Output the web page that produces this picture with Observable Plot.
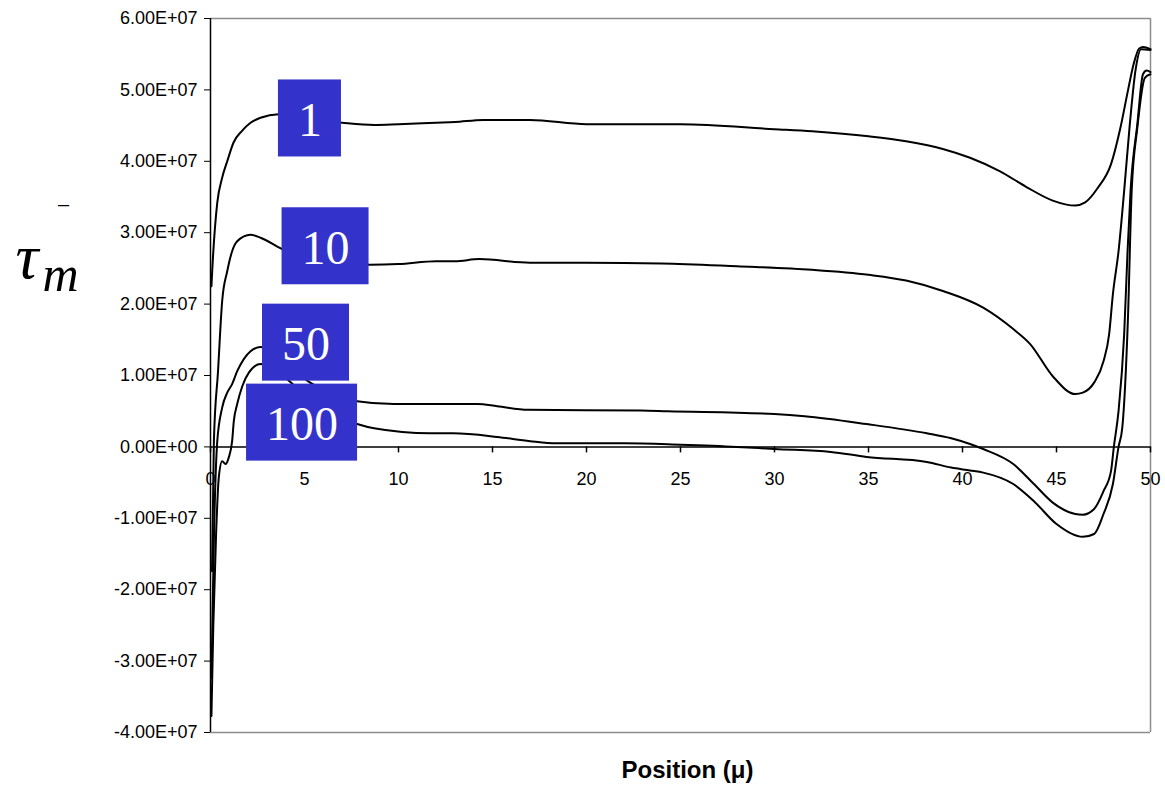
<!DOCTYPE html>
<html>
<head>
<meta charset="utf-8">
<script src="https://cdn.jsdelivr.net/npm/d3@7"></script>
<script src="https://cdn.jsdelivr.net/npm/@observablehq/plot@0.6"></script>
<style>
  html, body { margin: 0; padding: 0; background: #fff; }
</style>
</head>
<body>
<div id="chart"></div>
<script>
// ---- data ----
const xTicks = [0, 5, 10, 15, 20, 25, 30, 35, 40, 45, 50];
const yTicks = [-4e7, -3e7, -2e7, -1e7, 0, 1e7, 2e7, 3e7, 4e7, 5e7, 6e7];

const s1x = [0.05, 0.09, 0.36, 0.62, 0.89, 1.22, 1.69, 2.13, 2.66, 3.62, 5, 7, 8.7, 10, 12, 13, 14.5, 17, 20, 25, 30, 32, 35, 37, 39, 40.4, 42, 43.4, 44.8, 46, 46.5, 47.2, 47.9, 48.4, 48.8, 49.1, 49.4, 49.6, 50];
const s1y = [2.25e7, 2.46e7, 3.42e7, 3.77e7, 4.0e7, 4.26e7, 4.43e7, 4.54e7, 4.61e7, 4.66e7, 4.6e7, 4.54e7, 4.51e7, 4.52e7, 4.54e7, 4.55e7, 4.58e7, 4.58e7, 4.52e7, 4.52e7, 4.45e7, 4.42e7, 4.35e7, 4.28e7, 4.17e7, 4.05e7, 3.86e7, 3.64e7, 3.45e7, 3.38e7, 3.42e7, 3.63e7, 3.96e7, 4.47e7, 4.99e7, 5.36e7, 5.58e7, 5.6e7, 5.57e7];

const s10x = [0.08, 0.18, 0.4, 0.62, 0.89, 1.15, 1.42, 2.13, 2.66, 3.81, 5.5, 7, 8.5, 10, 12, 13, 14.3, 17, 20, 24, 28, 32, 35, 37, 39, 41.1, 42.7, 43.6, 44.8, 46, 46.4, 47, 47.5, 47.8, 48, 48.3, 48.6, 48.9, 49.2, 49.5, 50];
const s10y = [-1.74e7, 0.08e7, 1.06e7, 2.04e7, 2.46e7, 2.74e7, 2.88e7, 2.97e7, 2.93e7, 2.77e7, 2.62e7, 2.56e7, 2.55e7, 2.56e7, 2.6e7, 2.6e7, 2.63e7, 2.58e7, 2.58e7, 2.57e7, 2.53e7, 2.48e7, 2.41e7, 2.33e7, 2.18e7, 1.95e7, 1.65e7, 1.44e7, 0.99e7, 0.74e7, 0.76e7, 0.9e7, 1.2e7, 1.58e7, 2.14e7, 2.74e7, 3.59e7, 4.52e7, 5.27e7, 5.57e7, 5.56e7];

const s50x = [0.05, 0.18, 0.36, 0.62, 0.89, 1.15, 1.42, 1.77, 2.13, 2.66, 3.5, 5.3, 6.5, 7.8, 9.75, 14.2, 15.25, 16.9, 22.9, 24.3, 30, 31.6, 34.9, 38.1, 39.4, 40.4, 41.1, 42.7, 43.8, 44.8, 46, 46.4, 47, 47.5, 47.9, 48.05, 48.3, 48.6, 48.78, 48.94, 49.3, 49.6, 49.8, 50];
const s50y = [-3.24e7, -1.3e7, 0.08e7, 0.55e7, 0.76e7, 0.88e7, 1.06e7, 1.23e7, 1.34e7, 1.4e7, 1.3e7, 0.9e7, 0.75e7, 0.64e7, 0.6e7, 0.6e7, 0.57e7, 0.52e7, 0.51e7, 0.5e7, 0.46e7, 0.43e7, 0.32e7, 0.19e7, 0.12e7, 0.04e7, -0.03e7, -0.24e7, -0.52e7, -0.78e7, -0.94e7, -0.95e7, -0.87e7, -0.62e7, -0.34e7, 0, 0.5e7, 1.58e7, 2.74e7, 3.59e7, 4.52e7, 5.22e7, 5.27e7, 5.25e7];

const s100x = [0.05, 0.15, 0.3, 0.44, 0.62, 0.8, 0.97, 1.15, 1.24, 1.42, 1.69, 2.04, 2.66, 3.2, 4.2, 5.5, 7.8, 8.7, 11.7, 12.9, 15.25, 17, 18.4, 22, 25, 28, 30, 33, 34.9, 38.1, 39.4, 40.4, 41.1, 42.7, 43.8, 45, 46.4, 47, 47.5, 48, 48.3, 48.5, 48.8, 49, 49.3, 49.7, 50];
const s100y = [-3.77e7, -2.5e7, -1.2e7, -0.43e7, -0.2e7, -0.24e7, -0.15e7, 0.08e7, 0.36e7, 0.6e7, 0.85e7, 1.04e7, 1.16e7, 1.12e7, 0.92e7, 0.6e7, 0.32e7, 0.26e7, 0.19e7, 0.19e7, 0.14e7, 0.08e7, 0.05e7, 0.05e7, 0.03e7, 0.0, -0.03e7, -0.07e7, -0.14e7, -0.21e7, -0.29e7, -0.33e7, -0.36e7, -0.52e7, -0.76e7, -1.08e7, -1.26e7, -1.22e7, -0.94e7, -0.52e7, 0, 0.27e7, 1.8e7, 3.59e7, 4.47e7, 5.17e7, 5.22e7];

const labelText = ["1", "10", "50", "100"];
const labelX = [5.29, 6.12, 5.08, 4.87];
const labelY = [4.6e7, 2.81e7, 1.46e7, 0.34e7];

// ---- layout ----
const W = 1165, H = 787, ML = 210, MR = 15, MT = 18, MB = 55;
const kx = (W - ML - MR) / 50;     // px per x unit
const ky = (H - MT - MB) / 1e8;    // px per y unit

const toRows = (xs, ys, name) => xs.map((x, i) => ({x, y: ys[i], s: name}));
const series = [
  toRows(s1x, s1y, "1"),
  toRows(s10x, s10y, "10"),
  toRows(s50x, s50y, "50"),
  toRows(s100x, s100y, "100")
];
const labels = labelText.map((t, i) => {
  const hw = (24 * t.length + 39) / 2 / kx;
  const hh = 77 / 2 / ky;
  return {t, x: labelX[i], y: labelY[i], x1: labelX[i] - hw, x2: labelX[i] + hw, y1: labelY[i] - hh, y2: labelY[i] + hh};
});

const fmt = d => {
  if (d === 0) return "0.00E+00";
  const e = Math.floor(Math.log10(Math.abs(d)) + 1e-9);
  const m = d / Math.pow(10, e);
  return m.toFixed(2) + "E" + (e < 0 ? "-" : "+") + String(Math.abs(e)).padStart(2, "0");
};

const chart = Plot.plot({
  width: W, height: H,
  marginLeft: ML, marginRight: MR, marginTop: MT, marginBottom: MB,
  style: {fontFamily: "'Liberation Sans', Arial, sans-serif", fontSize: "18px", background: "#fff", color: "#000"},
  x: {domain: [0, 50], axis: null},
  y: {domain: [-4e7, 6e7]},
  marks: [
    // plot-area border (grey)
    Plot.ruleY([6e7], {stroke: "#8c8c8c", strokeWidth: 1.5}),
    Plot.ruleY([-4e7], {stroke: "#8c8c8c", strokeWidth: 1.5}),
    Plot.ruleX([50], {stroke: "#8c8c8c", strokeWidth: 1.5}),
    // y axis
    Plot.axisY({ticks: yTicks, tickFormat: fmt, tickSize: 6, tickPadding: 7, label: null, fontSize: 18, stroke: "#000"}),
    Plot.ruleX([0], {stroke: "#000", strokeWidth: 1.5}),
    // x axis at y = 0
    Plot.ruleY([0], {stroke: "#000", strokeWidth: 1.5}),
    Plot.ruleX(xTicks, {x: d => d, y1: 0, y2: 0, insetBottom: -6, stroke: "#000", strokeWidth: 1.5}),
    Plot.text(xTicks, {x: d => d, y: 0, dy: 32, text: d => String(d), fontSize: 18, fill: "#000"}),
    // curves
    ...series.map(rows => Plot.line(rows, {x: "x", y: "y", stroke: "#000", strokeWidth: 2, curve: "monotone-x"})),
    // label boxes
    Plot.rect(labels, {x1: "x1", x2: "x2", y1: "y1", y2: "y2", fill: "#3333cc"}),
    Plot.text(labels, {x: "x", y: "y", text: "t", fill: "#fff", fontSize: 48, fontFamily: "'Liberation Serif', 'Times New Roman', serif", lineAnchor: "middle", dy: 2}),
    // axis titles
    Plot.text(["Position (\u03bc)"], {frameAnchor: "bottom", dx: 7, dy: 45, lineAnchor: "bottom", fontSize: 24, fontWeight: "bold", fill: "#000"}),
    Plot.text(["\u03c4"], {frameAnchor: "top-left", dx: -195, dy: 259, textAnchor: "start", lineAnchor: "bottom", fontSize: 64, fontStyle: "italic", fontFamily: "'Liberation Serif', 'Times New Roman', serif", fill: "#000"}),
    Plot.text(["m"], {frameAnchor: "top-left", dx: -168, dy: 272, textAnchor: "start", lineAnchor: "bottom", fontSize: 50, fontStyle: "italic", fontFamily: "'Liberation Serif', 'Times New Roman', serif", fill: "#000"}),
    Plot.text(["\u2013"], {frameAnchor: "top-left", dx: -147, dy: 192, textAnchor: "middle", lineAnchor: "bottom", fontSize: 20, fill: "#000"})
  ]
});
document.getElementById("chart").appendChild(chart);
</script>
</body>
</html>
